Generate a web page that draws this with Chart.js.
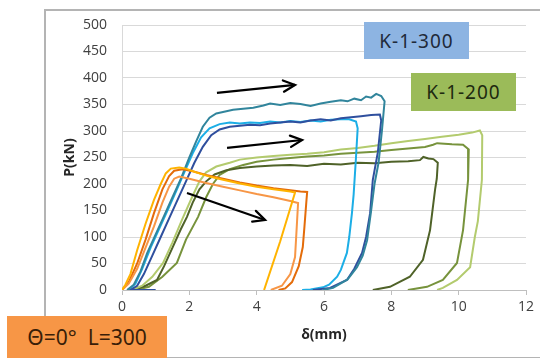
<!DOCTYPE html>
<html>
<head>
<meta charset="utf-8">
<script src="https://cdn.jsdelivr.net/npm/chart.js@4.4.1/dist/chart.umd.min.js"></script>
<style>
  html, body { margin: 0; padding: 0; background: #fff; }
  #wrap { position: relative; width: 540px; height: 358px; overflow: hidden; }
  #frame { position: absolute; left: 44px; top: 9px; width: 520px; height: 346px;
           border: 2px solid #b4b4b4; box-sizing: content-box; }
  .tag { position: absolute; display: flex; align-items: center; justify-content: center;
         font-family: "Noto Sans", sans-serif; letter-spacing: 1px; }
  #k300 { left: 364px; top: 22px; width: 105px; height: 37px; background: #8db4e2; color: #1f2a3a; font-size: 19px; }
  #k200 { left: 411px; top: 73px; width: 105px; height: 38px; background: #9bbb59; color: #1e2a10; font-size: 19px; }
  #cond { left: 7px; top: 316px; width: 160px; height: 42px; background: #f79646; color: #3a1e08; font-size: 21px; letter-spacing: 0; }
</style>
</head>
<body>
<div id="wrap">
  <div id="frame"></div>
  <canvas id="chart"></canvas>
  <div class="tag" id="k300">K-1-300</div>
  <div class="tag" id="k200">K-1-200</div>
  <div class="tag" id="cond">Θ=0°&nbsp; L=300</div>
</div>
<script>
// axis ticks
const xTicks = [0, 2, 4, 6, 8, 10, 12];
const yTicks = [0, 50, 100, 150, 200, 250, 300, 350, 400, 450, 500];

// orange group [δ(mm), P(kN)]
const yellowCurve = [[0,0],[0.1,10],[0.25,30],[0.45,75],[0.7,125],[0.95,170],[1.15,200],[1.3,220],[1.45,229],[1.7,231],[1.9,229],[2.2,222],[2.6,214],[3.0,208],[3.5,201],[4.0,195],[4.5,190],[5.0,186],[5.14,184],[4.7,92],[4.22,0]];
const lightOrangeCurve = [[0,0],[0.2,12],[0.45,40],[0.7,80],[0.95,120],[1.2,165],[1.4,195],[1.55,210],[1.7,214],[2.0,210],[2.5,202],[3.0,195],[3.5,188],[4.0,181],[4.5,175],[5.0,168],[5.23,164],[5.2,130],[5.14,62],[5.0,30],[4.75,8],[4.42,0]];
const darkOrangeCurve = [[0,0],[0.2,15],[0.45,50],[0.7,95],[0.95,145],[1.2,190],[1.4,215],[1.55,225],[1.8,228],[2.1,224],[2.5,217],[3.0,210],[3.5,203],[4.0,197],[4.5,192],[5.0,188],[5.3,186],[5.5,185],[5.48,170],[5.42,120],[5.37,81],[5.25,45],[5.05,15],[4.85,3],[4.65,0]];

// blue group (K-1-300)
const tealCurve = [[0.15,0],[0.35,10],[0.55,35],[0.75,70],[1.0,105],[1.25,140],[1.5,175],[1.75,210],[2.0,250],[2.2,280],[2.4,308],[2.6,325],[2.8,333],[3.0,336],[3.3,340],[3.6,342],[3.9,344],[4.2,348],[4.4,352],[4.7,349],[5.0,353],[5.3,351],[5.6,347],[5.9,352],[6.2,355],[6.5,358],[6.7,356],[6.9,361],[7.1,358],[7.25,365],[7.4,363],[7.55,370],[7.7,366],[7.8,356],[7.72,300],[7.62,240],[7.5,200],[7.4,150],[7.28,94],[7.15,65],[6.98,43],[6.7,20],[6.27,4],[5.97,0]];
const navyCurve = [[1.0,0],[0.25,0],[0.45,8],[0.65,30],[0.9,65],[1.15,100],[1.4,135],[1.65,170],[1.9,205],[2.15,240],[2.4,270],[2.65,292],[2.9,303],[3.2,308],[3.5,310],[3.8,312],[4.1,311],[4.4,314],[4.7,316],[5.0,318],[5.3,316],[5.6,320],[5.9,322],[6.2,320],[6.5,324],[6.8,326],[7.1,328],[7.4,330],[7.66,331],[7.7,320],[7.6,260],[7.45,208],[7.37,145],[7.25,100],[7.13,70],[6.9,40],[6.68,19],[6.18,4],[5.67,0]];
const lightBlueCurve = [[0.2,0],[0.4,12],[0.6,40],[0.85,80],[1.1,115],[1.35,150],[1.6,185],[1.85,222],[2.1,258],[2.35,288],[2.6,305],[2.9,313],[3.2,316],[3.5,314],[3.8,316],[4.1,315],[4.4,318],[4.7,316],[5.0,319],[5.3,317],[5.6,320],[5.9,318],[6.2,321],[6.5,322],[6.75,322],[6.95,318],[7.0,305],[6.95,250],[6.88,180],[6.83,145],[6.75,100],[6.68,70],[6.5,38],[6.39,25],[6.15,10],[5.97,5],[5.6,1],[5.35,0]];

// green group (K-1-200)
const lightGreenCurve = [[0.3,0],[0.6,8],[0.9,25],[1.22,51],[1.5,90],[1.8,135],[2.08,175],[2.3,205],[2.5,222],[2.8,233],[3.2,240],[3.5,246],[4.0,250],[4.5,253],[5.0,255],[5.5,257],[6.0,260],[6.5,265],[7.0,268],[7.5,272],[8.0,277],[8.5,281],[9.0,285],[9.5,289],[10.0,293],[10.4,297],[10.63,301],[10.7,292],[10.69,208],[10.57,130],[10.48,100],[10.34,43],[9.95,19],[9.53,4],[9.36,0]];
const darkGreenCurve = [[0.35,0],[0.7,8],[1.04,19],[1.25,45],[1.5,80],[1.75,115],[1.93,138],[2.1,165],[2.3,190],[2.5,205],[2.75,218],[3.1,226],[3.5,230],[4.0,233],[4.5,235],[5.0,236],[5.5,234],[6.0,238],[6.5,237],[7.0,240],[7.5,239],[8.0,242],[8.5,243],[8.85,245],[8.95,251],[9.1,248],[9.25,247],[9.38,240],[9.35,210],[9.3,190],[9.15,113],[8.94,57],[8.55,25],[7.96,6],[7.45,0]];
const oliveCurve = [[0.4,0],[0.8,6],[1.2,25],[1.63,51],[1.9,95],[2.26,138],[2.5,175],[2.7,200],[2.9,217],[3.2,228],[3.6,236],[4.0,242],[4.5,246],[5.0,249],[5.5,252],[6.0,254],[6.5,257],[7.0,259],[7.5,261],[8.0,264],[8.5,267],[9.0,270],[9.24,274],[9.36,277],[9.8,275],[10.13,274],[10.3,265],[10.28,208],[10.13,113],[9.95,51],[9.53,19],[9.06,6],[8.49,0]];

// arrows [start, tip]
const arrowUpper = [[2.82,372],[5.14,387]];
const arrowMiddle = [[3.12,268],[5.35,283]];
const arrowLower = [[1.93,183],[4.25,132]];

const toPts = arr => arr.map(p => ({ x: p[0], y: p[1] }));

function curve(data, color) {
    return { data: toPts(data), borderColor: color, backgroundColor: color, borderWidth: 2,
             showLine: true, pointRadius: 0, tension: 0, fill: false };
}
function arrow(data) {
    return { data: toPts(data), borderColor: '#000', borderWidth: 2.2, showLine: true,
             pointRadius: 0, tension: 0, arrow: true };
}

const arrowHeads = {
    id: 'arrowHeads',
    afterDatasetsDraw(chart) {
        const ctx = chart.ctx;
        chart.data.datasets.forEach((ds, i) => {
            if (!ds.arrow) return;
            const pts = chart.getDatasetMeta(i).data;
            const a = pts[pts.length - 2], b = pts[pts.length - 1];
            const ang = Math.atan2(b.y - a.y, b.x - a.x);
            const len = 13, spread = 0.45;
            ctx.save();
            ctx.strokeStyle = '#000';
            ctx.lineWidth = 2.2;
            ctx.lineCap = 'round';
            ctx.beginPath();
            ctx.moveTo(b.x - len * Math.cos(ang - spread), b.y - len * Math.sin(ang - spread));
            ctx.lineTo(b.x, b.y);
            ctx.lineTo(b.x - len * Math.cos(ang + spread), b.y - len * Math.sin(ang + spread));
            ctx.stroke();
            ctx.restore();
        });
    }
};

const tickFont = { family: '"Open Sans", sans-serif', size: 14 };
const titleFont = { family: '"Open Sans", sans-serif', size: 14, weight: 'bold' };

new Chart(document.getElementById('chart'), {
    type: 'scatter',
    data: {
        datasets: [
            arrow(arrowUpper), arrow(arrowMiddle), arrow(arrowLower),
            curve(yellowCurve, '#ffb300'),
            curve(lightOrangeCurve, '#f79646'),
            curve(darkOrangeCurve, '#e46c0a'),
            curve(tealCurve, '#31859c'),
            curve(navyCurve, '#2f4f9e'),
            curve(lightBlueCurve, '#1caee6'),
            curve(lightGreenCurve, '#b3cb6e'),
            curve(darkGreenCurve, '#4f6228'),
            curve(oliveCurve, '#77933c')
        ]
    },
    options: {
        responsive: true,
        maintainAspectRatio: false,
        animation: false,
        layout: { padding: { left: 60, right: 14, top: 25, bottom: 12 } },
        plugins: { legend: { display: false }, tooltip: { enabled: false } },
        scales: {
            x: {
                type: 'linear', min: 0, max: 12,
                afterBuildTicks: s => { s.ticks = xTicks.map(v => ({ value: v })); },
                afterFit: s => { s.height = 56; },
                ticks: { font: tickFont, color: '#404040', padding: 4, maxRotation: 0 },
                grid: { drawOnChartArea: false, drawTicks: true, tickLength: 5, color: '#bfbfbf' },
                border: { color: '#bfbfbf' },
                title: { display: true, text: 'δ(mm)', font: titleFont, color: '#262626', padding: { top: 0, bottom: 3 } }
            },
            y: {
                type: 'linear', min: 0, max: 500,
                afterBuildTicks: s => { s.ticks = yTicks.map(v => ({ value: v })); },
                afterFit: s => { s.width = 62; },
                ticks: { font: tickFont, color: '#404040', padding: 15 },
                grid: { color: '#d9d9d9', drawTicks: false },
                border: { color: '#d9d9d9' },
                title: { display: true, text: 'P(kN)', font: titleFont, color: '#262626', padding: { top: 2, bottom: 0 } }
            }
        }
    },
    plugins: [arrowHeads]
});
</script>
</body>
</html>
